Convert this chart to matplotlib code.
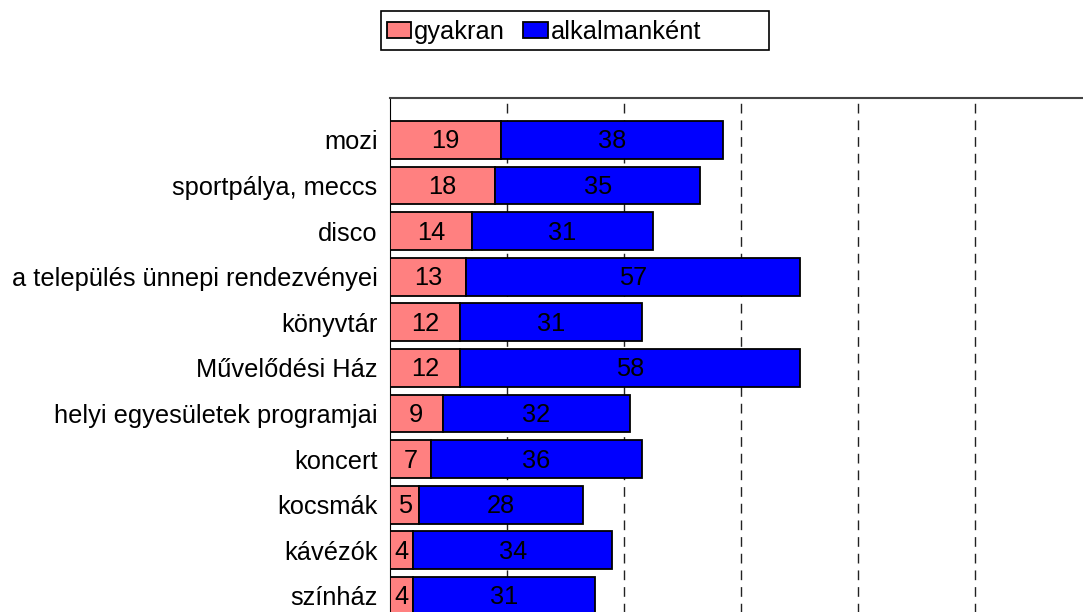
import matplotlib.pyplot as plt
from matplotlib.patches import Rectangle
import numpy as np

plt.rcParams['font.family'] = ['Liberation Sans', 'DejaVu Sans']

categories = ["mozi", "sportpálya, meccs", "disco", "a település ünnepi rendezvényei",
              "könyvtár", "Művelődési Ház", "helyi egyesületek programjai", "koncert",
              "kocsmák", "kávézók", "színház"]
gyakran = [19, 18, 14, 13, 12, 12, 9, 7, 5, 4, 4]
alkalmankent = [38, 35, 31, 57, 31, 58, 32, 36, 28, 34, 31]
series_names = ["gyakran", "alkalmanként"]

W, H = 1083, 612
fig = plt.figure(figsize=(W / 100, H / 100), dpi=100)

# axes extend beyond the picture on the right and bottom (cropped chart)
step = 45.6
ytop, ybot = -0.92, 11.6
ax_h = (ybot - ytop) * step
ax_left, ax_top = 390, 98
ax_w = 120 * 5.85
ax = fig.add_axes([ax_left / W, 1 - (ax_top + ax_h) / H, ax_w / W, ax_h / H])

fs = 18.3
y = np.arange(len(categories))
b1 = ax.barh(y, gyakran, height=0.83, color='#FF8080', edgecolor='black', linewidth=1.3, zorder=3)
b2 = ax.barh(y, alkalmankent, left=gyakran, height=0.83, color='#0000FF', edgecolor='black',
             linewidth=1.3, zorder=3)

for i in range(len(categories)):
    ax.text(gyakran[i] / 2, y[i] + 0.03, str(gyakran[i]), ha='center', va='center', fontsize=fs, zorder=4)
    ax.text(gyakran[i] + alkalmankent[i] / 2, y[i] + 0.03, str(alkalmankent[i]), ha='center',
            va='center', fontsize=fs, zorder=4)

ax.set_xlim(0, 120)
ax.set_ylim(ybot, ytop)
ax.set_xticks([20, 40, 60, 80, 100])
ax.xaxis.grid(True, linestyle=(0, (7, 5)), color='#222222', linewidth=1, zorder=0)
ax.set_axisbelow(True)
ax.tick_params(axis='x', length=0, labelbottom=False)
ax.set_yticks(y)
ax.set_yticklabels(categories, fontsize=fs)
ax.tick_params(axis='y', length=0, pad=9)
ax.spines['left'].set_color('black')
ax.spines['top'].set_color('#444444')
ax.spines['top'].set_linewidth(1.5)
ax.spines['right'].set_visible(False)
ax.spines['bottom'].set_visible(False)

# legend: entries without frame, plus a wide box like the original
fig.legend([b1, b2], series_names, loc='center left', bbox_to_anchor=(387 / W, 1 - 32 / H),
           ncol=2, fontsize=fs, frameon=False,
           handlelength=0.95, handleheight=0.6, handletextpad=0.12, columnspacing=0.72,
           borderpad=0, borderaxespad=0)
fig.patches.append(Rectangle((380.5 / W, 1 - 50 / H), 388 / W, 39 / H, transform=fig.transFigure,
                             fill=False, edgecolor='black', linewidth=1.2))

fig.savefig('out.png', dpi=100)
